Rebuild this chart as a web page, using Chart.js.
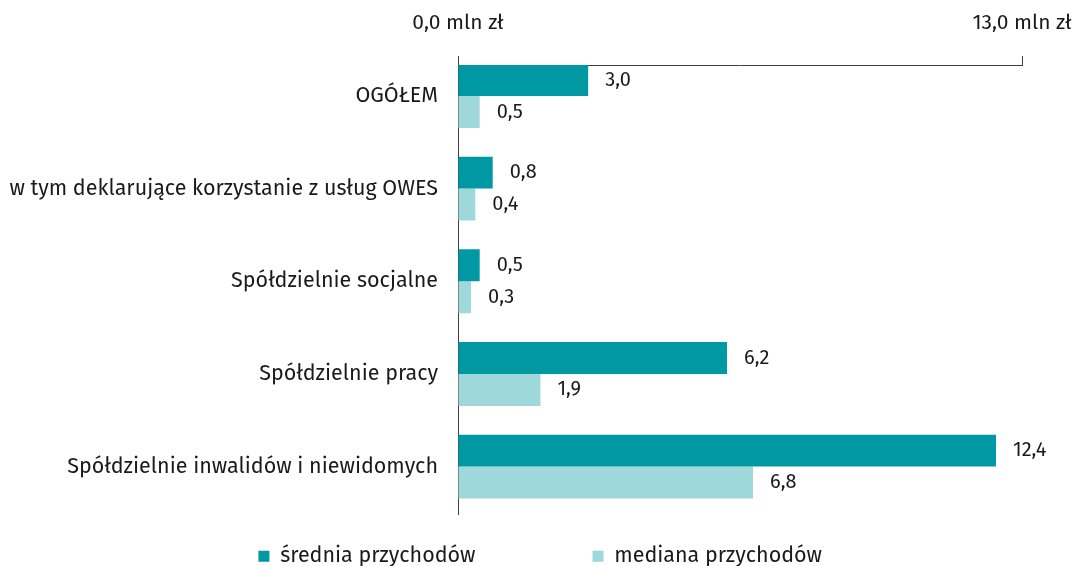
<!DOCTYPE html>
<html>
<head>
<meta charset="utf-8">
<script src="https://cdn.jsdelivr.net/npm/chart.js@4/dist/chart.umd.min.js"></script>
<style>
  html, body { margin: 0; padding: 0; background: #fff; }
  #wrap { width: 1076px; height: 566px; }
</style>
</head>
<body>
<div id="wrap"><canvas id="chart" width="1076" height="566"></canvas></div>
<script>
// categories (top to bottom) and values in mln zł
var categories = [
  "OGÓŁEM",
  "w tym deklarujące korzystanie z usług OWES",
  "Spółdzielnie socjalne",
  "Spółdzielnie pracy",
  "Spółdzielnie inwalidów i niewidomych"
];
var sredniaPrzychodow = [3.0, 0.8, 0.5, 6.2, 12.4];
var medianaPrzychodow = [0.5, 0.4, 0.3, 1.9, 6.8];
var axisTicks = [0, 13];
var seriesNames = ["średnia przychodów", "mediana przychodów"];

var FONT = "'Fira Sans', 'Noto Sans', sans-serif";
var TEXT = "#1a1a1a";
var AXIS = "#404040";

function points(values) {
  return values.map(function (v, i) { return { x: v, y: i }; });
}

function fmt(v) {
  return v.toFixed(1).replace(".", ",");
}

// value labels at the end of each bar
var valueLabels = {
  id: "valueLabels",
  afterDatasetsDraw: function (chart) {
    var ctx = chart.ctx;
    ctx.save();
    ctx.font = "20px " + FONT;
    ctx.fillStyle = TEXT;
    ctx.textAlign = "left";
    ctx.textBaseline = "middle";
    chart.data.datasets.forEach(function (ds, di) {
      chart.getDatasetMeta(di).data.forEach(function (bar, i) {
        ctx.fillText(fmt(ds.data[i].x), bar.x + 17, bar.y);
      });
    });
    ctx.restore();
  }
};

new Chart(document.getElementById("chart"), {
  type: "bar",
  data: {
    datasets: [
      { label: seriesNames[0], data: points(sredniaPrzychodow), backgroundColor: "#0099A3" },
      { label: seriesNames[1], data: points(medianaPrzychodow), backgroundColor: "#9ED8DB" }
    ]
  },
  options: {
    indexAxis: "y",
    responsive: false,
    animation: false,
    layout: { padding: { left: 0, right: 54, top: 0, bottom: -11 } },
    datasets: { bar: { categoryPercentage: 0.69, barPercentage: 1 } },
    scales: {
      x: {
        type: "linear",
        position: "top",
        min: 0,
        max: 13,
        afterBuildTicks: function (s) { s.ticks = axisTicks.map(function (v) { return { value: v }; }); },
        afterFit: function (s) {
          s.height = 65;
          s.paddingLeft = 0;
          s.paddingRight = 0;
        },
        border: { display: true, color: AXIS, width: 1 },
        grid: { drawOnChartArea: false, drawTicks: true, tickLength: 9, color: AXIS },
        ticks: {
          font: { family: FONT, size: 21 },
          color: TEXT,
          padding: 20,
          maxRotation: 0,
          callback: function (v) { return fmt(v) + " mln zł"; }
        }
      },
      y: {
        type: "linear",
        reverse: true,
        offset: false,
        min: -0.334,
        max: 4.517,
        afterBuildTicks: function (s) { s.ticks = categories.map(function (c, i) { return { value: i }; }); },
        afterFit: function (s) { s.width = 458; },
        border: { display: true, color: AXIS, width: 1 },
        grid: { display: false },
        ticks: {
          font: { family: FONT, size: 21.5 },
          color: TEXT,
          padding: 12,
          callback: function (v) { return categories[v]; }
        }
      }
    },
    plugins: {
      legend: {
        position: "bottom",
        labels: {
          font: { family: FONT, size: 21.5, lineHeight: 1 },
          color: TEXT,
          boxWidth: 11,
          boxHeight: 11,
          padding: 31,
          generateLabels: function (chart) {
            var items = Chart.defaults.plugins.legend.labels.generateLabels(chart);
            // wider gap after the first entry
            items[0].text += "\u2003\u2003\u2003\u2003";
            // empty spacer entry in front nudges the row to the right
            items.unshift({
              text: " ",
              fillStyle: "rgba(0,0,0,0)",
              strokeStyle: "rgba(0,0,0,0)",
              lineWidth: 0,
              hidden: false,
              datasetIndex: -1
            });
            return items;
          }
        }
      },
      tooltip: { enabled: false }
    }
  },
  plugins: [valueLabels]
});
</script>
</body>
</html>
